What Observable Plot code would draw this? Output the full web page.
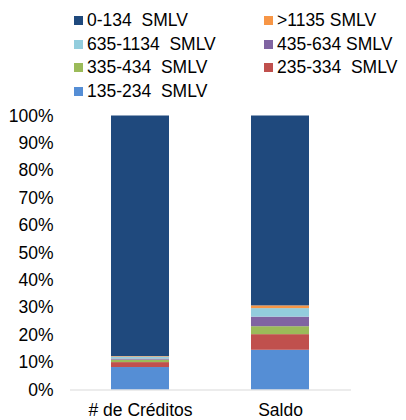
<!DOCTYPE html>
<html>
<head>
<meta charset="utf-8">
<script src="https://cdn.jsdelivr.net/npm/d3@7"></script>
<script src="https://cdn.jsdelivr.net/npm/@observablehq/plot@0.6"></script>
<style>
  html, body { margin: 0; padding: 0; background: #fff; }
  body { width: 406px; height: 420px; overflow: hidden; font-family: "Liberation Sans", Arial, sans-serif; }
  #legend { position: relative; width: 406px; height: 105px; }
  .item { position: absolute; font-size: 17.5px; color: #000; white-space: pre; line-height: 20px; }
  .sw { display: inline-block; width: 9px; height: 9px; margin-right: 4px; vertical-align: 1px; }
</style>
</head>
<body>
<div id="legend"></div>
<div id="chart"></div>
<script>
const categories = ["# de Créditos", "Saldo"];
const series = ["135-234  SMLV", "235-334  SMLV", "335-434  SMLV", "435-634 SMLV", "635-1134  SMLV", ">1135 SMLV", "0-134  SMLV"];
const colors = ["#558ED5", "#C0504D", "#9BBB59", "#8064A2", "#93CDDD", "#F79646", "#1F497D"];
const creditos = [8.2, 1.8, 0.9, 0.4, 0.7, 0.2, 87.8];
const saldo = [14.5, 5.7, 2.9, 3.5, 3.1, 1.0, 69.3];
const yTicks = [0, 10, 20, 30, 40, 50, 60, 70, 80, 90, 100];
const legendOrder = ["0-134  SMLV", ">1135 SMLV", "635-1134  SMLV", "435-634 SMLV", "335-434  SMLV", "235-334  SMLV", "135-234  SMLV"];

const table = [];
series.forEach((s, i) => {
  table.push({cat: categories[0], series: s, value: creditos[i]});
  table.push({cat: categories[1], series: s, value: saldo[i]});
});

// legend
const legend = document.getElementById("legend");
legendOrder.forEach((s, i) => {
  const col = i % 2, row = Math.floor(i / 2);
  const d = document.createElement("div");
  d.className = "item";
  d.style.left = (col === 0 ? 74 : 264) + "px";
  d.style.top = (10 + row * 23.7) + "px";
  const sw = document.createElement("span");
  sw.className = "sw";
  sw.style.background = colors[series.indexOf(s)];
  d.appendChild(sw);
  d.appendChild(document.createTextNode(s));
  legend.appendChild(d);
});

const chart = Plot.plot({
  width: 406,
  height: 315,
  marginLeft: 70,
  marginRight: 55,
  marginTop: 10.5,
  marginBottom: 30.5,
  style: {fontFamily: "'Liberation Sans', Arial, sans-serif", fontSize: "17.5px", color: "#000", background: "#fff"},
  x: {domain: categories, paddingInner: 0.583, paddingOuter: 0.2915, label: null},
  y: {domain: [0, 100], label: null},
  color: {domain: series, range: colors},
  marks: [
    Plot.axisY({ticks: yTicks, tickFormat: d => d + "%", tickSize: 0, tickPadding: 17, label: null, fontSize: 17.5}),
    Plot.axisX({tickSize: 0, tickPadding: 13.5, label: null, fontSize: 17.5}),
    Plot.barY(table, {x: "cat", y: "value", fill: "series", order: series}),
    Plot.ruleY([0], {stroke: "#d9d9d9", strokeWidth: 1})
  ]
});
document.getElementById("chart").appendChild(chart);
</script>
</body>
</html>
